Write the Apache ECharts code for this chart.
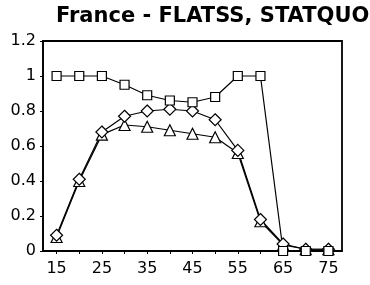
<!DOCTYPE html>
<html>
<head>
    <meta charset="utf-8" />
    <title>France - FLATSS, STATQUO</title>
    <script src="https://cdn.jsdelivr.net/npm/echarts@6/dist/echarts.min.js"></script>
    <style>
        html, body { margin: 0; padding: 0; background: #fff; }
        #chart { width: 370px; height: 285px; }
    </style>
</head>
<body>
    <div id="chart"></div>
    <script type="text/javascript">
        // ages
        var ages = [15, 20, 25, 30, 35, 40, 45, 50, 55, 60, 65, 70, 75];
        // series values
        var squares = [1.0, 1.0, 1.0, 0.95, 0.89, 0.86, 0.85, 0.88, 1.0, 1.0, 0.0, 0.0, 0.0];
        var diamonds = [0.09, 0.41, 0.68, 0.77, 0.80, 0.81, 0.80, 0.75, 0.575, 0.18, 0.04, 0.01, 0.01];
        var triangles = [0.08, 0.40, 0.665, 0.72, 0.71, 0.69, 0.67, 0.65, 0.56, 0.17, 0.035, 0.01, 0.01];
        // axis ticks
        var xTicks = [15, 20, 25, 30, 35, 40, 45, 50, 55, 60, 65, 70, 75];
        var xLabels = [15, 25, 35, 45, 55, 65, 75];

        function pairs(vals) {
            var out = [];
            for (var i = 0; i < ages.length; i++) {
                out.push([ages[i], vals[i]]);
            }
            return out;
        }

        function mkSeries(vals, symbol, size) {
            return {
                type: 'line',
                data: pairs(vals),
                symbol: symbol,
                symbolSize: size,
                showAllSymbol: true,
                lineStyle: { color: '#000', width: 1.2 },
                itemStyle: { color: '#fff', borderColor: '#000', borderWidth: 1.2 },
                animation: false
            };
        }

        var myChart = echarts.init(document.getElementById('chart'));

        myChart.setOption({
            animation: false,
            title: {
                text: 'France - FLATSS, STATQUO',
                left: 51,
                top: 1,
                textStyle: {
                    fontFamily: 'DejaVu Sans',
                    fontSize: 21,
                    fontWeight: 'bold',
                    color: '#000'
                }
            },
            grid: {
                left: 43,
                right: 28,
                top: 41,
                bottom: 34,
                show: true,
                borderColor: '#000',
                borderWidth: 1.8,
                backgroundColor: 'transparent'
            },
            xAxis: {
                type: 'value',
                min: 12,
                max: 78,
                axisLine: { show: true, lineStyle: { color: '#000', width: 1.5 } },
                axisTick: {
                    show: true,
                    customValues: xTicks,
                    length: 3,
                    lineStyle: { color: '#000' }
                },
                axisLabel: {
                    customValues: xLabels,
                    margin: 10,
                    fontFamily: 'DejaVu Sans',
                    fontSize: 16,
                    color: '#000'
                },
                splitLine: { show: false }
            },
            yAxis: {
                type: 'value',
                min: 0,
                max: 1.2,
                interval: 0.2,
                axisLine: { show: true, lineStyle: { color: '#000', width: 1.5 } },
                axisTick: { show: true, length: 3, lineStyle: { color: '#000' } },
                axisLabel: {
                    margin: 7,
                    fontFamily: 'DejaVu Sans',
                    fontSize: 16,
                    color: '#000'
                },
                splitLine: { show: false }
            },
            series: [
                mkSeries(triangles, 'triangle', 11),
                mkSeries(diamonds, 'diamond', 12),
                mkSeries(squares, 'rect', 9)
            ]
        });
    </script>
</body>
</html>
